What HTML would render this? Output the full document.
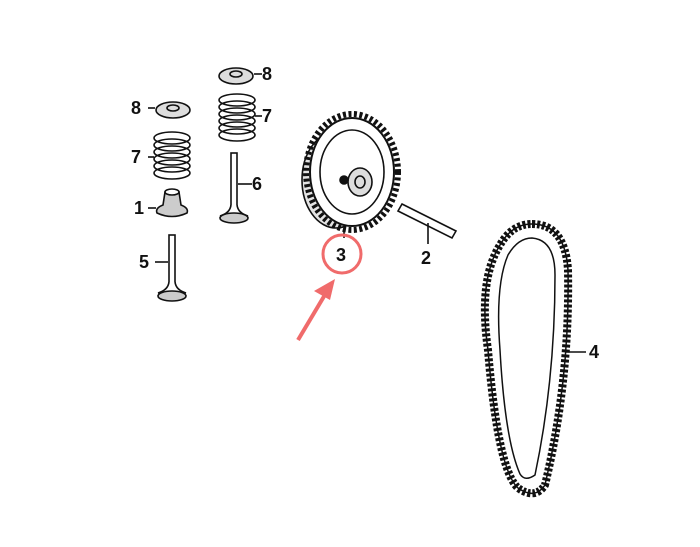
<!DOCTYPE html>
<html><head><style>
html,body{margin:0;padding:0;background:#fff;}
svg{display:block;}
text{font-family:"Liberation Sans",sans-serif;font-size:18px;fill:#111;font-weight:600;}
</style></head><body>
<svg width="700" height="547" viewBox="0 0 700 547">
<g fill="none" stroke="#111" stroke-width="1.6">
<ellipse cx="236" cy="76" rx="17" ry="8" fill="#ddd"/>
<ellipse cx="236" cy="74" rx="6" ry="3"/>
<line x1="254" y1="74" x2="262" y2="74"/>
<g>
<ellipse cx="237" cy="100" rx="18" ry="6"/>
<ellipse cx="237" cy="107" rx="18" ry="6"/>
<ellipse cx="237" cy="114" rx="18" ry="6"/>
<ellipse cx="237" cy="121" rx="18" ry="6"/>
<ellipse cx="237" cy="128" rx="18" ry="6"/>
<ellipse cx="237" cy="135" rx="18" ry="6"/>
</g>
<line x1="255" y1="116" x2="262" y2="116"/>
<rect x="231" y="153" width="6" height="60" fill="#fff"/>
<path d="M231 205 Q230 213 220 216 L248 216 Q238 213 237 205" fill="#fff"/>
<ellipse cx="234" cy="218" rx="14" ry="5" fill="#ccc"/>
<line x1="238" y1="184" x2="252" y2="184"/>
<ellipse cx="173" cy="110" rx="17" ry="8" fill="#ddd"/>
<ellipse cx="173" cy="108" rx="6" ry="3"/>
<line x1="148" y1="108" x2="155" y2="108"/>
<g>
<ellipse cx="172" cy="138" rx="18" ry="6"/>
<ellipse cx="172" cy="145" rx="18" ry="6"/>
<ellipse cx="172" cy="152" rx="18" ry="6"/>
<ellipse cx="172" cy="159" rx="18" ry="6"/>
<ellipse cx="172" cy="166" rx="18" ry="6"/>
<ellipse cx="172" cy="173" rx="18" ry="6"/>
</g>
<line x1="148" y1="157" x2="154" y2="157"/>
<path d="M165 192 L163 205 Q155 208 157 213 Q172 220 187 213 Q189 208 181 205 L179 192 Z" fill="#ccc"/>
<ellipse cx="172" cy="192" rx="7" ry="3" fill="#fff"/>
<line x1="148" y1="208" x2="156" y2="208"/>
<rect x="169" y="235" width="6" height="55" fill="#fff"/>
<path d="M169 282 Q168 290 158 293 L186 293 Q176 290 175 282" fill="#fff"/>
<ellipse cx="172" cy="296" rx="14" ry="5" fill="#ccc"/>
<line x1="155" y1="262" x2="168" y2="262"/>
<ellipse cx="336" cy="180" rx="34" ry="48" fill="#e4e4e4"/>
<ellipse cx="352" cy="172" rx="42" ry="54" fill="#fff" stroke-width="2"/>
<ellipse cx="352" cy="172" rx="46" ry="58" stroke-dasharray="3 2.5" stroke-width="6"/>
<ellipse cx="352" cy="172" rx="32" ry="42"/>
<ellipse cx="360" cy="182" rx="12" ry="14" fill="#ddd"/>
<ellipse cx="360" cy="182" rx="5" ry="6"/>
<ellipse cx="344" cy="180" rx="4" ry="4" fill="#111"/>
<line x1="344" y1="230" x2="344" y2="238"/>
<path d="M402 204 L456 231 L452 238 L398 211 Z" fill="#fff"/>
<line x1="428" y1="223" x2="428" y2="244"/>
<path d="M532 224 Q565 224 568 270 Q570 380 545 485 Q535 500 518 488 Q498 470 488 350 Q478 280 500 245 Q512 224 532 224 Z" stroke-width="8" stroke-dasharray="3 2"/>
<path d="M532 224 Q565 224 568 270 Q570 380 545 485 Q535 500 518 488 Q498 470 488 350 Q478 280 500 245 Q512 224 532 224 Z" stroke-width="1.5"/>
<path d="M532 238 Q555 240 555 275 Q555 380 535 475 Q525 482 520 474 Q505 440 500 350 Q495 285 508 255 Q518 238 532 238 Z" stroke-width="1.5"/>
<line x1="565" y1="352" x2="586" y2="352"/>
</g>
<text x="262" y="80">8</text>
<text x="131" y="114">8</text>
<text x="262" y="122">7</text>
<text x="131" y="163">7</text>
<text x="252" y="190">6</text>
<text x="134" y="214">1</text>
<text x="139" y="268">5</text>
<text x="421" y="264">2</text>
<text x="589" y="358">4</text>
<circle cx="342" cy="254" r="19" fill="none" stroke="#f06b6b" stroke-width="3"/>
<text x="336" y="261" style="font-weight:700">3</text>
<line x1="298" y1="340" x2="326" y2="293" stroke="#f06b6b" stroke-width="4"/>
<polygon points="335,279 314,291 330,300" fill="#f06b6b"/>
</svg>
</body></html>
